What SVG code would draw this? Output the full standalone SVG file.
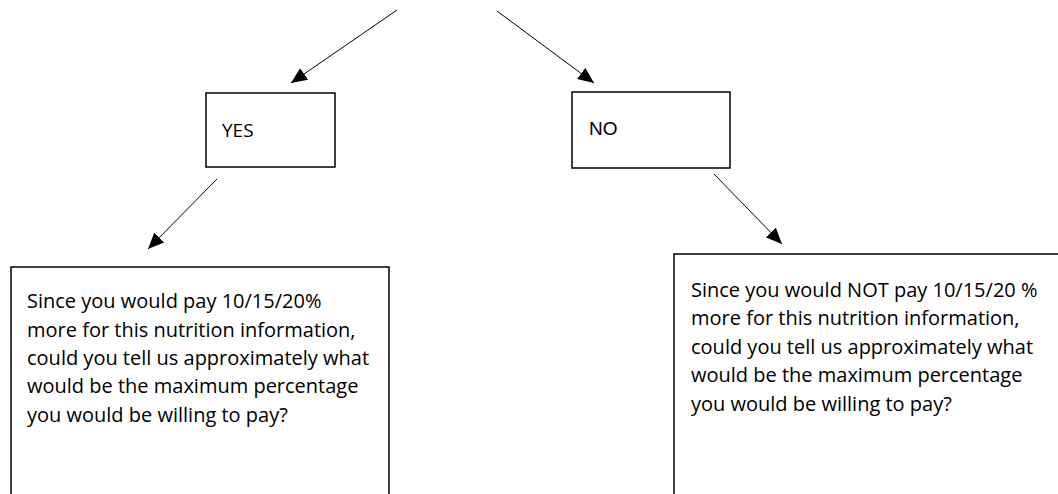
<svg xmlns="http://www.w3.org/2000/svg" width="1058" height="494" viewBox="0 0 1058 494">
<style>
.box{fill:#fff;stroke:#000;stroke-width:1.5}
.yes{font-family:"Open Sans","Liberation Sans",sans-serif;font-size:19px;fill:#000}
.no{font-family:"Liberation Sans","Open Sans",sans-serif;font-size:19px;fill:#000}
.body{font-family:"Open Sans","Liberation Sans",sans-serif;font-size:20px;fill:#000}
.conn{stroke:#000;stroke-width:1;fill:none;marker-end:url(#arr)}
</style>
<defs>
<marker id="arr" markerUnits="userSpaceOnUse" markerWidth="18" markerHeight="14" refX="16" refY="7" orient="auto">
<path d="M0,0 L16,7 L0,14 Z" fill="#000"/>
</marker>
</defs>
<rect width="1058" height="494" fill="#fff"/>
<g id="connectors">
<line class="conn" x1="397" y1="10" x2="291" y2="83"/>
<line class="conn" x1="497" y1="11" x2="594" y2="83"/>
<line class="conn" x1="217" y1="179" x2="148" y2="249"/>
<line class="conn" x1="714" y1="174" x2="782" y2="244"/>
</g>
<g id="yes">
<rect class="box" x="206" y="93" width="129" height="74"/>
<text class="yes" x="222" y="137">YES</text>
</g>
<g id="no">
<rect class="box" x="572" y="92" width="158" height="76"/>
<text class="no" x="589" y="135">NO</text>
</g>
<g id="yes-question">
<path class="box" d="M11,500 V267 H389 V500"/>
<text class="body" x="27" y="308">Since you would pay 10/15/20%</text>
<text class="body" x="27" y="336.5">more for this nutrition information,</text>
<text class="body" x="27" y="365">could you tell us approximately what</text>
<text class="body" x="27" y="393">would be the maximum percentage</text>
<text class="body" x="27" y="421.5">you would be willing to pay?</text>
</g>
<g id="no-question">
<path class="box" d="M674,500 V254 H1065"/>
<text class="body" x="691" y="296.5">Since you would NOT pay 10/15/20 %</text>
<text class="body" x="691" y="325">more for this nutrition information,</text>
<text class="body" x="691" y="353.5">could you tell us approximately what</text>
<text class="body" x="691" y="382">would be the maximum percentage</text>
<text class="body" x="691" y="410.5">you would be willing to pay?</text>
</g>
</svg>
